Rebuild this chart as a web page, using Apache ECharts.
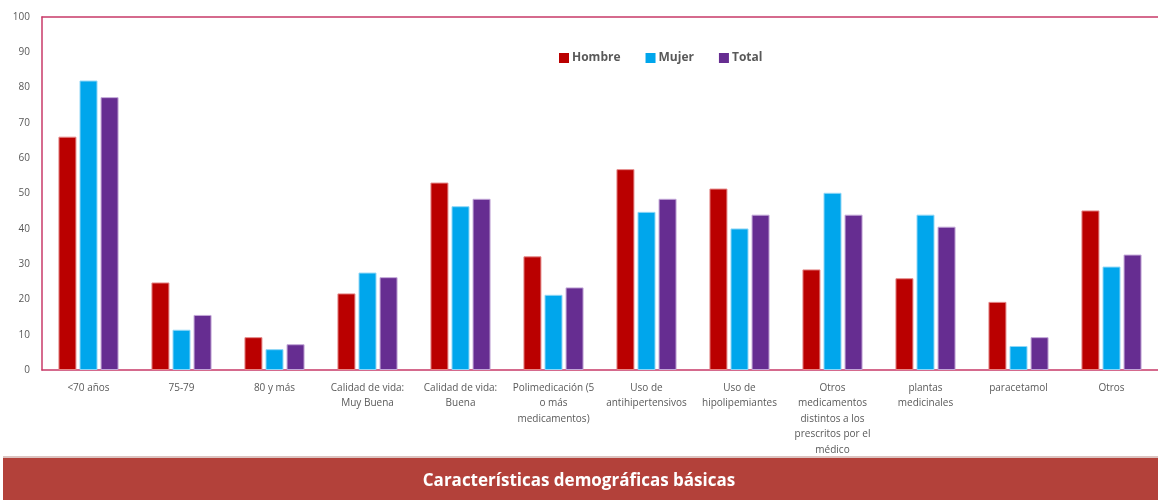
<!DOCTYPE html>
<html>
<head>
<meta charset="utf-8">
<script src="https://cdn.jsdelivr.net/npm/echarts@6/dist/echarts.min.js"></script>
<style>
  html, body { margin: 0; padding: 0; background: #fff; }
  #chart { width: 1158px; height: 500px; }
</style>
</head>
<body>
<div id="chart"></div>
<script>
// categorias del eje x (saltos de linea como en el original)
var categorias = [
  '<70 años',
  '75-79',
  '80 y más',
  'Calidad de vida:\nMuy Buena',
  'Calidad de vida:\nBuena',
  'Polimedicación (5\no más\nmedicamentos)',
  'Uso de\nantihipertensivos',
  'Uso de\nhipolipemiantes',
  'Otros\nmedicamentos\ndistintos a los\nprescritos por el\nmédico',
  'plantas\nmedicinales',
  'paracetamol',
  'Otros'
];
var hombre = [66.1, 24.8, 9.3, 21.7, 53.1, 32.2, 56.9, 51.4, 28.5, 26.0, 19.3, 45.2];
var mujer  = [82.0, 11.4, 5.9, 27.6, 46.4, 21.3, 44.8, 40.1, 50.2, 44.0, 6.8, 29.3];
var total  = [77.3, 15.6, 7.3, 26.3, 48.5, 23.4, 48.5, 44.0, 44.0, 40.6, 9.3, 32.7];
var titulo = 'Características demográficas básicas';

var myChart = echarts.init(document.getElementById('chart'));
var frame = '#c83a68';
var gris = '#595959';

function serie(name, data, color, borde) {
  return {
    name: name,
    type: 'bar',
    data: data,
    barWidth: 18,
    barGap: '17%',
    itemStyle: { color: color, borderColor: borde, borderWidth: 1 },
    animation: false
  };
}

var option = {
  backgroundColor: '#fff',
  textStyle: { fontFamily: 'Open Sans' },
  title: {
    text: titulo,
    left: 'center',
    top: 468,
    textStyle: { color: '#fff', fontSize: 17, fontWeight: 'bold', fontFamily: 'Open Sans' }
  },
  legend: {
    left: 554,
    top: 47,
    itemWidth: 10,
    itemHeight: 10,
    itemGap: 25,
    icon: 'rect',
    itemStyle: { borderWidth: 0 },
    textStyle: { color: gris, fontSize: 12, fontWeight: 'bold', padding: [0, 0, 0, -2] },
    data: ['Hombre', 'Mujer', 'Total']
  },
  grid: { left: 42, top: 17, right: 0, bottom: 130 },
  xAxis: [{
    type: 'category',
    data: categorias,
    axisLine: { lineStyle: { color: frame, width: 1.5 } },
    axisTick: { show: false },
    axisLabel: { color: gris, fontSize: 10, lineHeight: 15.5, interval: 0, margin: 10 }
  }, {
    // solo la linea del borde superior
    type: 'category',
    position: 'top',
    data: categorias,
    axisLine: { lineStyle: { color: frame, width: 1.5 } },
    axisTick: { show: false },
    axisLabel: { show: false }
  }],
  yAxis: {
    type: 'value',
    min: 0, max: 100, interval: 10,
    axisLine: { show: true, lineStyle: { color: frame, width: 1.5 } },
    axisTick: { show: false },
    splitLine: { show: false },
    axisLabel: { color: gris, fontSize: 10, margin: 12 }
  },
  graphic: [
    { type: 'rect', shape: { x: 3, y: 456, width: 1155, height: 2 }, style: { fill: '#dcc3c0' } },
    { type: 'rect', shape: { x: 3, y: 458, width: 1155, height: 42 }, style: { fill: '#b3413a' }, z: -1 }
  ],
  series: [
    serie('Hombre', hombre, '#ba0000', '#e58a8a'),
    serie('Mujer', mujer, '#00a6ec', '#8fd6f6'),
    serie('Total', total, '#662d91', '#c3a8d8')
  ]
};
myChart.setOption(option);
</script>
</body>
</html>
